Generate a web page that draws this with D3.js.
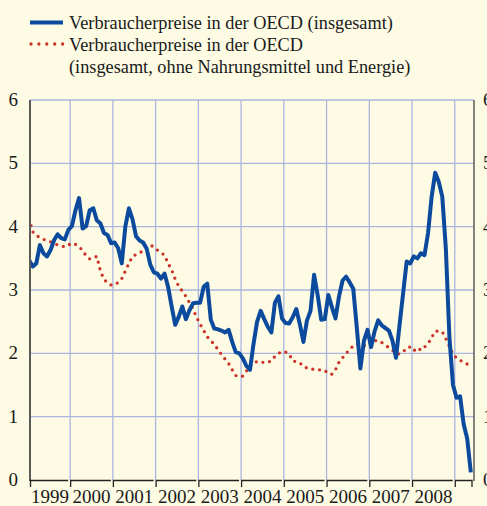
<!DOCTYPE html>
<meta charset="utf-8">
<html lang="de">
<head>
	<meta charset="utf-8">
	<title> Verbraucherpreise in der OECD </title>
	<script type="text/javascript" src="https://cdn.jsdelivr.net/npm/d3@7"></script>
	<style type="text/css">
		body { margin: 0; background: #fdfbe4; }
		svg { display: block; }
		text { font-family: "Liberation Serif", "Times New Roman", serif; fill: #1a1a1a; }
	</style>
</head>
<body>
	<script type="text/javascript">

// DATA (monthly, Jan 1999 onwards, % change on a year earlier)
		var years = [1999, 2000, 2001, 2002, 2003, 2004, 2005, 2006, 2007, 2008];
		var yTicks = [0, 1, 2, 3, 4, 5, 6];
		var headline = [
			3.47, 3.37, 3.42, 3.71, 3.58, 3.53, 3.63, 3.79, 3.88, 3.82, 3.80, 3.95,
			4.01, 4.26, 4.45, 3.97, 4.01, 4.26, 4.29, 4.10, 4.05, 3.90, 3.87, 3.74,
			3.75, 3.66, 3.42, 4.00, 4.29, 4.12, 3.85, 3.78, 3.75, 3.65, 3.40, 3.28,
			3.26, 3.18, 3.26, 3.05, 2.74, 2.45, 2.58, 2.74, 2.54, 2.68, 2.79, 2.80,
			2.80, 3.05, 3.10, 2.53, 2.39, 2.38, 2.36, 2.33, 2.37, 2.18, 2.02, 2.00,
			1.92, 1.80, 1.74, 2.15, 2.50, 2.67, 2.54, 2.42, 2.33, 2.80, 2.90, 2.55,
			2.48, 2.47, 2.57, 2.70, 2.46, 2.18, 2.52, 2.67, 3.24, 2.92, 2.53, 2.54,
			2.92, 2.73, 2.55, 2.90, 3.15, 3.21, 3.12, 3.02, 2.40, 1.76, 2.20, 2.37,
			2.10, 2.35, 2.52, 2.44, 2.40, 2.36, 2.20, 1.93, 2.45, 2.95, 3.45, 3.42,
			3.53, 3.50, 3.58, 3.55, 3.90, 4.47, 4.85, 4.71, 4.47, 3.65, 2.25, 1.50,
			1.30, 1.32, 0.88, 0.65, 0.12
		];
		var core = [
			4.12, 3.92, 3.86, 3.83, 3.80, 3.78, 3.76, 3.74, 3.71, 3.70, 3.68, 3.71,
			3.74, 3.72, 3.69, 3.62, 3.54, 3.49, 3.51, 3.53, 3.30, 3.17, 3.11, 3.08,
			3.08, 3.12, 3.18, 3.30, 3.42, 3.53, 3.56, 3.58, 3.63, 3.67, 3.71, 3.68,
			3.63, 3.59, 3.55, 3.42, 3.32, 3.17, 3.06, 2.98, 2.90, 2.80, 2.70, 2.57,
			2.46, 2.36, 2.26, 2.20, 2.14, 2.06, 1.98, 1.91, 1.84, 1.74, 1.65, 1.63,
			1.64, 1.72, 1.80, 1.85, 1.87, 1.87, 1.85, 1.86, 1.88, 1.95, 2.00, 2.03,
			2.02, 1.99, 1.88, 1.87, 1.85, 1.79, 1.77, 1.75, 1.75, 1.74, 1.74, 1.73,
			1.68, 1.67, 1.74, 1.86, 1.93, 2.00, 2.06, 2.12, 2.14, 2.14, 2.12, 2.14,
			2.21, 2.20, 2.20, 2.17, 2.13, 2.09, 2.05, 2.00, 1.99, 2.02, 2.09, 2.10,
			2.04, 2.09, 2.05, 2.10, 2.15, 2.25, 2.35, 2.35, 2.34, 2.23, 2.11, 1.98,
			1.93, 1.89, 1.86, 1.83
		];
		var legendLabels = [
			["Verbraucherpreise in der OECD (insgesamt)"],
			["Verbraucherpreise in der OECD", "(insgesamt, ohne Nahrungsmittel und Energie)"]
		];

// SIZES
		var w = 487;
		var h = 506;
		var plotLeft = 30, plotRight = 474, plotTop = 100, plotBottom = 480;
		var blue = "#0b4a9c";
		var red = "#cc3328";
		var grid = "#aab6df";

		var svg = d3.select("body")
			.append("svg")
			.attr("width", w)
			.attr("height", h);

		svg.append("rect")
			.attr("width", w)
			.attr("height", h)
			.attr("fill", "#fdfbe4");

// SCALES (x in decimal years, points at mid-month)
		var x = d3.scaleLinear()
			.domain([1999, 2009 + 5.4 / 12])
			.range([27.4, plotRight]);
		var y = d3.scaleLinear()
			.domain([0, 6])
			.range([plotBottom, plotTop]);

		function monthX(d, i) { return x(1999 + (i + 0.5) / 12); }

// GRID
		svg.append("g")
			.selectAll("line")
			.data(yTicks.slice(1))
			.enter()
			.append("line")
			.attr("x1", plotLeft)
			.attr("x2", plotRight)
			.attr("y1", function(d) { return y(d); })
			.attr("y2", function(d) { return y(d); })
			.attr("stroke", grid)
			.attr("stroke-width", 1.3);

		svg.append("g")
			.selectAll("line")
			.data(years.slice(1).concat([2009]))
			.enter()
			.append("line")
			.attr("x1", function(d) { return x(d); })
			.attr("x2", function(d) { return x(d); })
			.attr("y1", plotTop)
			.attr("y2", plotBottom)
			.attr("stroke", grid)
			.attr("stroke-width", 1.3);

// LINES
		svg.append("clipPath")
			.attr("id", "plot")
			.append("rect")
			.attr("x", plotLeft)
			.attr("y", plotTop - 10)
			.attr("width", plotRight - plotLeft)
			.attr("height", plotBottom - plotTop + 10);

		var line = d3.line()
			.x(monthX)
			.y(function(d) { return y(d); });

		svg.append("path")
			.datum(core)
			.attr("clip-path", "url(#plot)")
			.attr("d", line)
			.attr("fill", "none")
			.attr("stroke", red)
			.attr("stroke-width", 3.3)
			.attr("stroke-linecap", "round")
			.attr("stroke-dasharray", "0 6.8");

		svg.append("path")
			.datum(headline)
			.attr("clip-path", "url(#plot)")
			.attr("d", line)
			.attr("fill", "none")
			.attr("stroke", blue)
			.attr("stroke-width", 4)
			.attr("stroke-linejoin", "round");

// AXES
		svg.append("line")
			.attr("x1", plotLeft).attr("x2", plotLeft)
			.attr("y1", plotTop).attr("y2", plotBottom + 1)
			.attr("stroke", "#5a5a5a")
			.attr("stroke-width", 2);
		svg.append("line")
			.attr("x1", plotRight).attr("x2", plotRight)
			.attr("y1", plotTop).attr("y2", plotBottom + 1)
			.attr("stroke", "#5a5a5a")
			.attr("stroke-width", 1.5);

		// year brackets along the bottom
		var bounds = [plotLeft].concat(years.slice(1).map(function(d) { return x(d); }), [x(2009), plotRight]);
		svg.append("g")
			.selectAll("path")
			.data(d3.pairs(bounds))
			.enter()
			.append("path")
			.attr("d", function(d, i) {
				var p = "M" + (d[0] + 0.5) + "," + (plotBottom + 7) + "V" + (plotBottom + 0.5) + "H" + (d[1] - 2);
				if (i == bounds.length - 2) p += "V" + (plotBottom + 7);
				return p;
			})
			.attr("fill", "none")
			.attr("stroke", "#222")
			.attr("stroke-width", 1.3);

		svg.append("g")
			.selectAll("text")
			.data(years)
			.enter()
			.append("text")
			.text(function(d) { return d; })
			.attr("x", function(d, i) { return (bounds[i] + bounds[i + 1]) / 2; })
			.attr("y", 503)
			.attr("font-size", "19px")
			.attr("text-anchor", "middle");

		svg.append("g")
			.selectAll("text")
			.data(yTicks)
			.enter()
			.append("text")
			.text(function(d) { return d; })
			.attr("x", 18)
			.attr("y", function(d) { return y(d) + 6; })
			.attr("font-size", "19px")
			.attr("text-anchor", "end");

		svg.append("g")
			.selectAll("text")
			.data(yTicks)
			.enter()
			.append("text")
			.text(function(d) { return d; })
			.attr("x", 483)
			.attr("y", function(d) { return y(d) + 6; })
			.attr("font-size", "19px");

// LEGEND
		svg.append("line")
			.attr("x1", 30).attr("x2", 63)
			.attr("y1", 22.5).attr("y2", 22.5)
			.attr("stroke", blue)
			.attr("stroke-width", 4);
		svg.append("line")
			.attr("x1", 31).attr("x2", 64)
			.attr("y1", 44).attr("y2", 44)
			.attr("stroke", red)
			.attr("stroke-width", 3.3)
			.attr("stroke-linecap", "round")
			.attr("stroke-dasharray", "0 7.9");

		var legend = svg.append("text")
			.attr("font-size", "18.3px");
		legend.append("tspan").attr("x", 69).attr("y", 29).text(legendLabels[0][0]);
		legend.append("tspan").attr("x", 69).attr("y", 51).text(legendLabels[1][0]);
		legend.append("tspan").attr("x", 69).attr("y", 73).text(legendLabels[1][1]);

	</script>
</body>
</html>
